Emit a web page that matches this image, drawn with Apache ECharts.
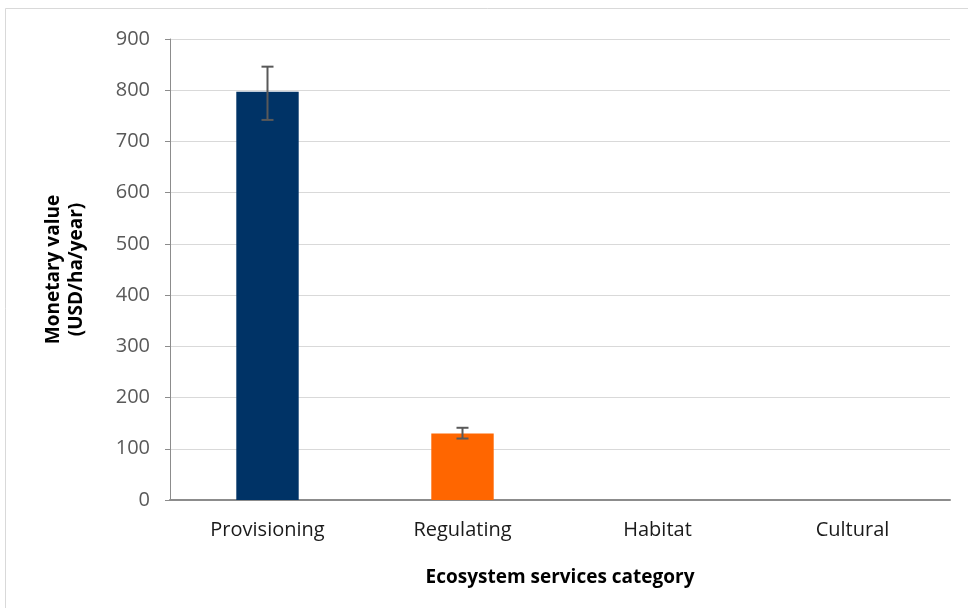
<!DOCTYPE html>
<html>
<head>
<meta charset="utf-8">
<script src="https://cdn.jsdelivr.net/npm/echarts@6/dist/echarts.min.js"></script>
<style>
  html, body { margin: 0; padding: 0; background: #fff; }
  #chart { width: 968px; height: 608px; }
</style>
</head>
<body>
<div id="chart"></div>
<script>
const categories = ['Provisioning', 'Regulating', 'Habitat', 'Cultural'];
const values = [797, 130, 0, 0];
const errLow = [742, 120, 0, 0];
const errHigh = [846, 141, 0, 0];
const barColors = ['#003366', '#ff6600', '#003366', '#ff6600'];
const yTicks = { min: 0, max: 900, interval: 100 };

const chart = echarts.init(document.getElementById('chart'));

const fontFamily = '"Open Sans", "Liberation Sans", sans-serif';

const option = {
    animation: false,
    backgroundColor: '#fff',
    graphic: [
        {
            type: 'rect',
            shape: { x: 5.5, y: 8.5, width: 980, height: 620 },
            style: { fill: 'none', stroke: '#d9d9d9', lineWidth: 1 },
            silent: true
        }
    ],
    grid: { left: 170, right: 18, top: 39, bottom: 108 },
    xAxis: {
        type: 'category',
        data: categories,
        axisLine: { lineStyle: { color: '#8c8c8c', width: 2 } },
        axisTick: { show: false },
        axisLabel: { color: '#1a1a1a', fontSize: 20, fontFamily: fontFamily, margin: 20 },
        name: 'Ecosystem services category',
        nameLocation: 'middle',
        nameGap: 68,
        nameTextStyle: { color: '#000', fontSize: 19, fontWeight: 'bold', fontFamily: fontFamily }
    },
    yAxis: {
        type: 'value',
        min: yTicks.min,
        max: yTicks.max,
        interval: yTicks.interval,
        axisLine: { show: true, lineStyle: { color: '#8c8c8c', width: 1 } },
        axisTick: { show: true, length: 5, lineStyle: { color: '#8c8c8c' } },
        axisLabel: { color: '#595959', fontSize: 20, fontFamily: fontFamily, margin: 20 },
        splitLine: { lineStyle: { color: '#d9d9d9', width: 1 } },
        name: 'Monetary value\n(USD/ha/year)',
        nameLocation: 'middle',
        nameGap: 82,
        nameRotate: 90,
        nameTextStyle: { color: '#000', fontSize: 19, fontWeight: 'bold', fontFamily: fontFamily, lineHeight: 23 }
    },
    series: [
        {
            type: 'bar',
            barWidth: '32%',
            data: values.map((v, i) => ({ value: v, itemStyle: { color: barColors[i] } }))
        },
        {
            type: 'custom',
            z: 10,
            data: categories.map((c, i) => [i, errLow[i], errHigh[i]]),
            renderItem: function (params, api) {
                if (api.value(2) <= 0) return null;
                const lo = api.coord([api.value(0), api.value(1)]);
                const hi = api.coord([api.value(0), api.value(2)]);
                const half = 6;
                const style = { stroke: '#595959', lineWidth: 2 };
                return {
                    type: 'group',
                    children: [
                        { type: 'line', shape: { x1: hi[0], y1: hi[1], x2: lo[0], y2: lo[1] }, style: style },
                        { type: 'line', shape: { x1: hi[0] - half, y1: hi[1], x2: hi[0] + half, y2: hi[1] }, style: style },
                        { type: 'line', shape: { x1: lo[0] - half, y1: lo[1], x2: lo[0] + half, y2: lo[1] }, style: style }
                    ]
                };
            }
        }
    ]
};

chart.setOption(option);
</script>
</body>
</html>
